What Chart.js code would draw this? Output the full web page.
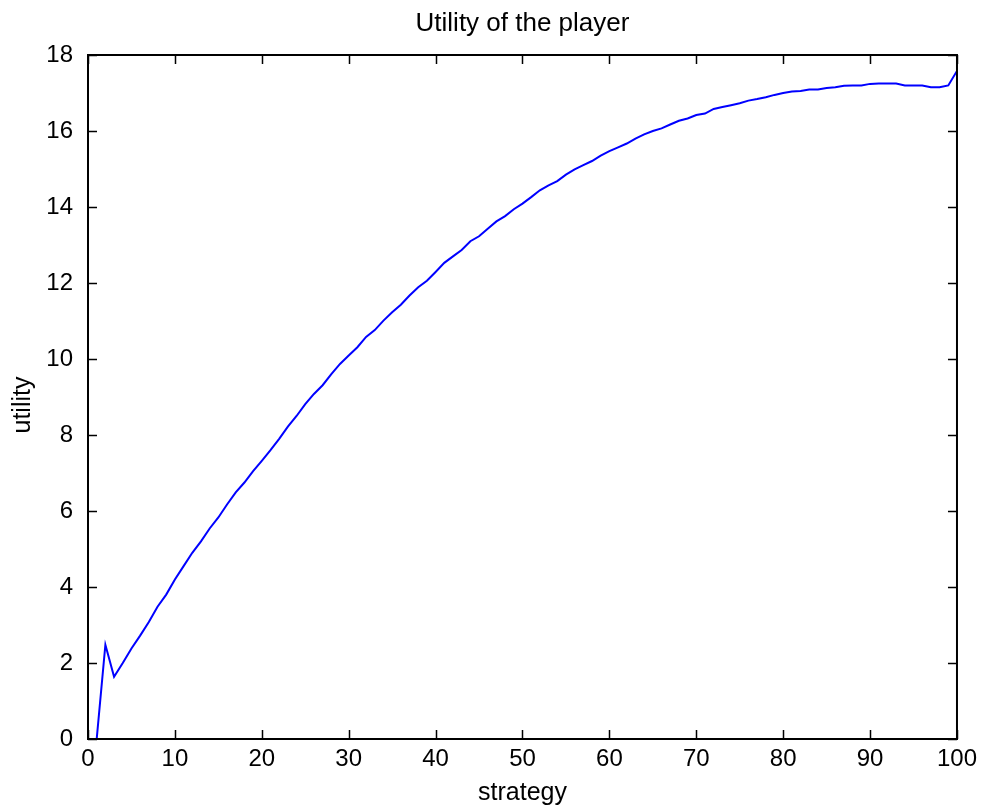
<!DOCTYPE html>
<html>
<head>
<meta charset="utf-8">
<title>Utility of the player</title>
<script src="https://cdn.jsdelivr.net/npm/chart.js@4/dist/chart.umd.min.js"></script>
<style>
  html, body { margin: 0; padding: 0; background: #ffffff; }
  canvas { display: block; }
</style>
</head>
<body>
<canvas id="utilityChart" width="983" height="809"></canvas>
<script>
// Utility value for each strategy (strategy = 1..100)
const utility = [
    0, 2.48, 1.64, 2.0, 2.38, 2.72, 3.08, 3.48, 3.8, 4.2,
    4.55, 4.9, 5.2, 5.54, 5.83, 6.17, 6.49, 6.75, 7.05, 7.32,
    7.6, 7.9, 8.22, 8.5, 8.81, 9.08, 9.31, 9.6, 9.87, 10.09,
    10.31, 10.58, 10.76, 11.01, 11.23, 11.43, 11.67, 11.89, 12.06, 12.29,
    12.53, 12.7, 12.87, 13.1, 13.23, 13.43, 13.62, 13.76, 13.94, 14.09,
    14.26, 14.44, 14.57, 14.68, 14.85, 14.99, 15.1, 15.21, 15.35, 15.47,
    15.57, 15.67, 15.8, 15.91, 16.0, 16.07, 16.17, 16.27, 16.33, 16.42,
    16.46, 16.58, 16.63, 16.68, 16.73, 16.8, 16.84, 16.89, 16.95, 17.0,
    17.04, 17.05, 17.09, 17.09, 17.13, 17.15, 17.19, 17.2, 17.2, 17.24,
    17.25, 17.25, 17.25, 17.2, 17.2, 17.2, 17.15, 17.15, 17.2, 17.58
];
const strategy = utility.map((_, i) => i + 1);

const xTicks = [0, 10, 20, 30, 40, 50, 60, 70, 80, 90, 100];
const yTicks = [0, 2, 4, 6, 8, 10, 12, 14, 16, 18];

const chartTitle = 'Utility of the player';
const yLabel = 'utility';

const FONT = 'Liberation Sans, Arial, Helvetica, sans-serif';

// MATLAB-like box with inward tick marks, title centred over the axes, rotated y label
const boxTicks = {
    id: 'boxTicks',
    afterDraw(chart) {
        const { ctx, chartArea: a, scales } = chart;
        const len = 9;
        ctx.save();
        ctx.strokeStyle = '#000000';
        ctx.lineWidth = 1.5;
        ctx.beginPath();
        xTicks.forEach(v => {
            const px = Math.round(scales.x.getPixelForValue(v)) + 0.5;
            ctx.moveTo(px, a.bottom); ctx.lineTo(px, a.bottom - len);
            ctx.moveTo(px, a.top); ctx.lineTo(px, a.top + len);
        });
        yTicks.forEach(v => {
            const py = Math.round(scales.y.getPixelForValue(v)) + 0.5;
            ctx.moveTo(a.left, py); ctx.lineTo(a.left + len, py);
            ctx.moveTo(a.right, py); ctx.lineTo(a.right - len, py);
        });
        ctx.stroke();
        ctx.lineWidth = 2;
        ctx.strokeRect(a.left, a.top, a.right - a.left, a.bottom - a.top);

        ctx.fillStyle = '#000000';
        ctx.textAlign = 'center';
        ctx.textBaseline = 'middle';
        ctx.font = '26px ' + FONT;
        ctx.fillText(chartTitle, (a.left + a.right) / 2, 24);

        ctx.font = '25px ' + FONT;
        ctx.translate(23, 405);
        ctx.rotate(-Math.PI / 2);
        ctx.fillText(yLabel, 0, 0);
        ctx.restore();
    }
};

new Chart(document.getElementById('utilityChart').getContext('2d'), {
    type: 'line',
    data: {
        datasets: [{
            label: 'utility',
            data: strategy.map((s, i) => ({ x: s, y: utility[i] })),
            borderColor: '#0000ff',
            borderWidth: 2,
            pointRadius: 0,
            tension: 0,
            fill: false
        }]
    },
    options: {
        responsive: false,
        animation: false,
        layout: { padding: { left: 0, right: 26, top: 55, bottom: 0 } },
        scales: {
            x: {
                type: 'linear',
                min: 0,
                max: 100,
                afterBuildTicks: scale => { scale.ticks = xTicks.map(v => ({ value: v })); },
                afterFit: scale => { scale.height = 70; },
                grid: { display: false, drawTicks: false },
                border: { display: false },
                ticks: { color: '#000000', padding: 6, maxRotation: 0, font: { family: FONT, size: 24 } },
                title: {
                    display: true,
                    text: 'strategy',
                    color: '#000000',
                    padding: { top: 0, bottom: 1 },
                    font: { family: FONT, size: 25 }
                }
            },
            y: {
                type: 'linear',
                min: 0,
                max: 18,
                afterBuildTicks: scale => { scale.ticks = yTicks.map(v => ({ value: v })); },
                afterFit: scale => { scale.width = 88; },
                grid: { display: false, drawTicks: false },
                border: { display: false },
                ticks: { color: '#000000', padding: 15, font: { family: FONT, size: 24 } }
            }
        },
        plugins: {
            legend: { display: false },
            tooltip: { enabled: false },
            title: { display: false }
        }
    },
    plugins: [boxTicks]
});
</script>
</body>
</html>
